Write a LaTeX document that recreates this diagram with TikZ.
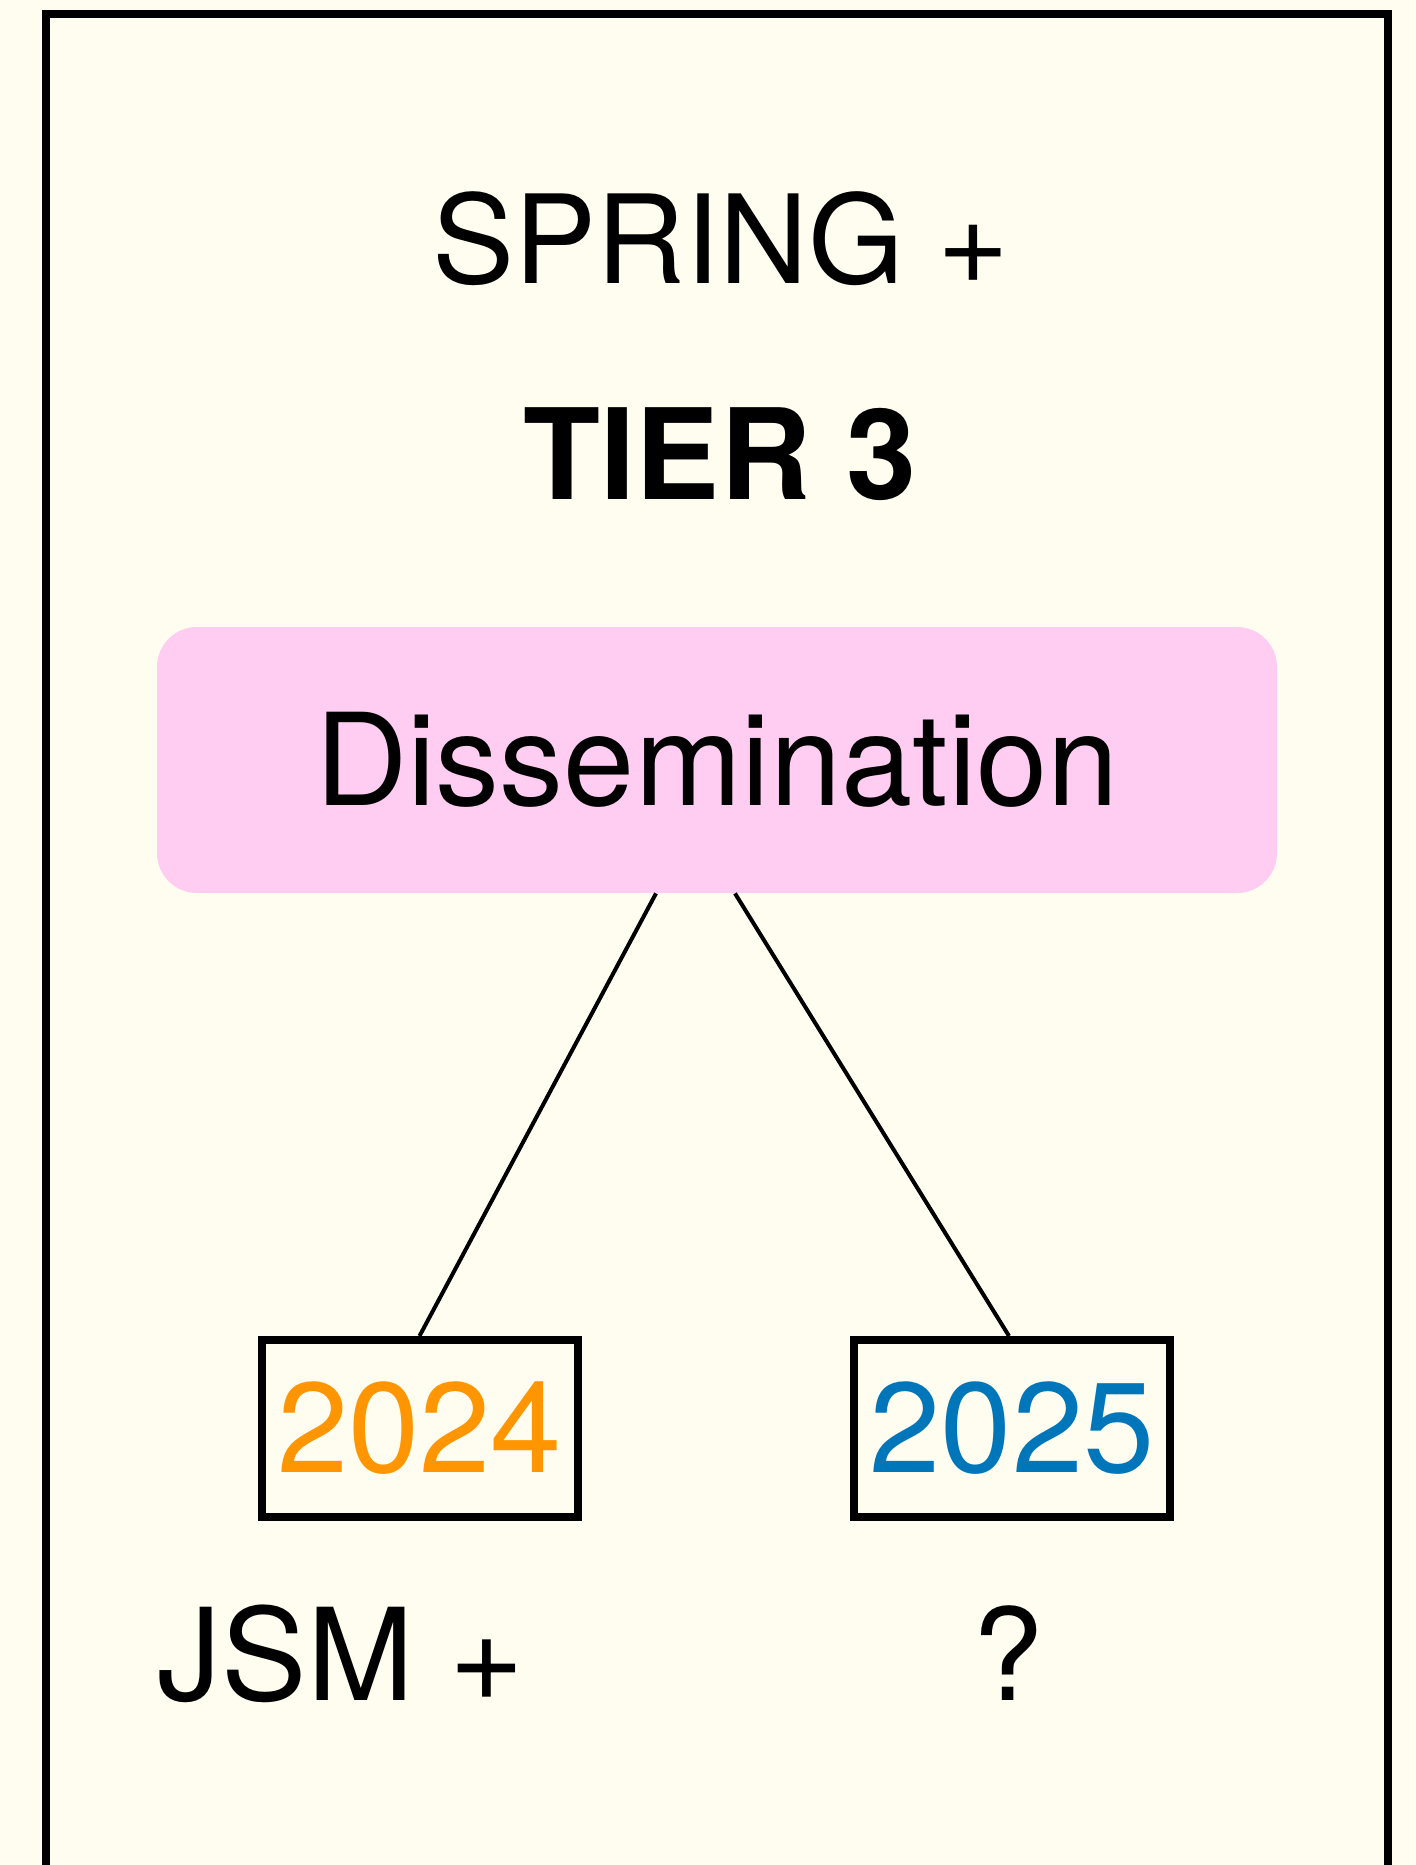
\documentclass[tikz,border=0pt]{standalone}
\usepackage{fontspec}
\setmainfont{TeX Gyre Heros}
\usetikzlibrary{positioning}

\definecolor{paper}{RGB}{255,253,240}
\definecolor{pinkbox}{RGB}{255,204,242}
\definecolor{yrorange}{RGB}{255,149,0}
\definecolor{yrblue}{RGB}{0,118,186}

\begin{document}
\begin{tikzpicture}[x=0.5pt, y=-0.5pt,
    big/.style={font=\fontsize{64pt}{76pt}\selectfont, inner sep=0pt},
    topic/.style={big, fill=pinkbox, rounded corners=20pt, minimum width=560pt, minimum height=133pt},
    year/.style={big, draw, line width=4pt, minimum width=158pt, minimum height=88.5pt},
    link/.style={line width=2pt}]
	\fill[paper] (0,0) rectangle (1415,1865);
	\useasboundingbox (0,0) rectangle (1415,1865);
	\clip (0,0) rectangle (1415,1865);
	\draw[line width=4pt] (46,1900) -- (46,14) -- (1388,14) -- (1388,1900);
	
	\node[big, anchor=base, font=\fontsize{61.5pt}{76pt}\selectfont] (spring) at (721,283) {SPRING +};
	\node[big, anchor=base, font=\fontsize{63pt}{76pt}\selectfont\bfseries] (tier) at (720,499) {TIER 3};
	
	\node[topic] (diss) at (717,760) {Dissemination};
	\node[year, text=yrorange] (y24) at (419.5,1428.5) {2024};
	\node[year, text=yrblue] (y25) at (1012,1428.5) {2025};
	
	\node[big, anchor=base] (jsm) at (341,1700) {JSM +};
	\node[big, anchor=base] (what) at (1008,1700) {?};
	
	\draw[link] ([xshift=-30.5pt]diss.south) -- (y24.north);
	\draw[link] ([xshift=9pt]diss.south) -- ([xshift=-1.5pt]y25.north);
\end{tikzpicture}
\end{document}
